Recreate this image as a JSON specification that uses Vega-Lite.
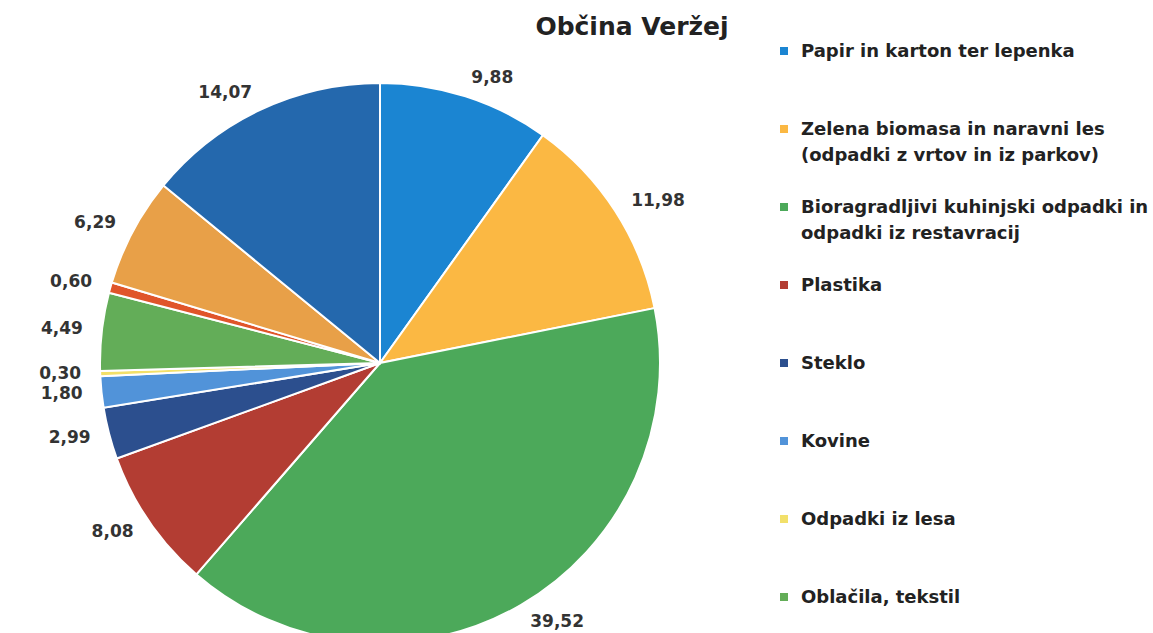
{
  "$schema": "https://vega.github.io/schema/vega-lite/v6.json",
  "autosize": "none",
  "width": 760,
  "height": 626,
  "padding": {"top": 50, "left": 0, "right": 393, "bottom": 0},
  "background": "white",
  "config": {
    "view": {"stroke": null},
    "locale": {"number": {"decimal": ",", "thousands": ".", "grouping": [3], "currency": ["", " €"]}},
    "style": {"guide-label": {"lineHeight": 26}}
  },
  "title": {
    "text": "Občina Veržej",
    "font": "DejaVu Sans",
    "fontSize": 25,
    "fontWeight": "bold",
    "color": "#222222",
    "anchor": "middle",
    "dx": 252,
    "dy": 41,
    "offset": 15,
    "baseline": "alphabetic"
  },
  "data": {
    "values": [
      {"id": 1, "vrsta": "Papir in karton ter lepenka", "delez": 9.88},
      {"id": 2, "vrsta": "Zelena biomasa in naravni les (odpadki z vrtov in iz parkov)", "delez": 11.98},
      {"id": 3, "vrsta": "Bioragradljivi kuhinjski odpadki in odpadki iz restavracij", "delez": 39.52},
      {"id": 4, "vrsta": "Plastika", "delez": 8.08},
      {"id": 5, "vrsta": "Steklo", "delez": 2.99},
      {"id": 6, "vrsta": "Kovine", "delez": 1.80},
      {"id": 7, "vrsta": "Odpadki iz lesa", "delez": 0.30},
      {"id": 8, "vrsta": "Oblačila, tekstil", "delez": 4.49},
      {"id": 9, "vrsta": "Nevarni odpadki", "delez": 0.60},
      {"id": 10, "vrsta": "Kosovni odpadki", "delez": 6.29},
      {"id": 11, "vrsta": "Mešani komunalni odpadki", "delez": 14.07}
    ]
  },
  "encoding": {
    "theta": {"field": "delez", "type": "quantitative", "stack": true},
    "order": {"field": "id", "type": "quantitative"},
    "color": {
      "field": "vrsta",
      "type": "nominal",
      "sort": ["Papir in karton ter lepenka", "Zelena biomasa in naravni les (odpadki z vrtov in iz parkov)", "Bioragradljivi kuhinjski odpadki in odpadki iz restavracij", "Plastika", "Steklo", "Kovine", "Odpadki iz lesa", "Oblačila, tekstil", "Nevarni odpadki", "Kosovni odpadki", "Mešani komunalni odpadki"],
      "scale": {
        "domain": ["Papir in karton ter lepenka", "Zelena biomasa in naravni les (odpadki z vrtov in iz parkov)", "Bioragradljivi kuhinjski odpadki in odpadki iz restavracij", "Plastika", "Steklo", "Kovine", "Odpadki iz lesa", "Oblačila, tekstil", "Nevarni odpadki", "Kosovni odpadki", "Mešani komunalni odpadki"],
        "range": ["#1b85d2", "#fbb843", "#4ca95a", "#b33d33", "#2c4f8e", "#5193d9", "#f2e06a", "#63ad58", "#e0552a", "#e8a048", "#2468ad"]
      },
      "legend": {
        "orient": "none",
        "direction": "vertical",
        "legendX": 775,
        "legendY": -16,
        "title": null,
        "symbolType": "M-1,1H1V3H-1Z",
        "symbolSize": 64,
        "symbolStrokeWidth": 0,
        "labelFont": "DejaVu Sans",
        "labelFontSize": 18,
        "labelFontWeight": "bold",
        "labelColor": "#222222",
        "labelBaseline": "top",
        "labelLimit": 0,
        "labelOffset": 8,
        "rowPadding": 25,
        "gridAlign": "all",
        "labelExpr": "datum.label == 'Zelena biomasa in naravni les (odpadki z vrtov in iz parkov)' ? ['Zelena biomasa in naravni les', '(odpadki z vrtov in iz parkov)'] : datum.label == 'Bioragradljivi kuhinjski odpadki in odpadki iz restavracij' ? ['Bioragradljivi kuhinjski odpadki in', 'odpadki iz restavracij'] : datum.label"
      }
    }
  },
  "layer": [
    {"mark": {"type": "arc", "outerRadius": 280, "stroke": "white", "strokeWidth": 2}},
    {
      "mark": {"type": "text", "radius": 299, "align": "left", "baseline": "middle", "font": "DejaVu Sans", "fontSize": 17, "fontWeight": "bold", "fill": "#333333"},
      "encoding": {
        "text": {"condition": {"test": "datum.id <= 3", "field": "delez", "type": "quantitative", "format": ".2f"}, "value": ""}
      }
    },
    {
      "mark": {"type": "text", "radius": 299, "align": "right", "baseline": "middle", "font": "DejaVu Sans", "fontSize": 17, "fontWeight": "bold", "fill": "#333333"},
      "encoding": {
        "text": {"condition": {"test": "datum.id > 3", "field": "delez", "type": "quantitative", "format": ".2f"}, "value": ""}
      }
    }
  ]
}
